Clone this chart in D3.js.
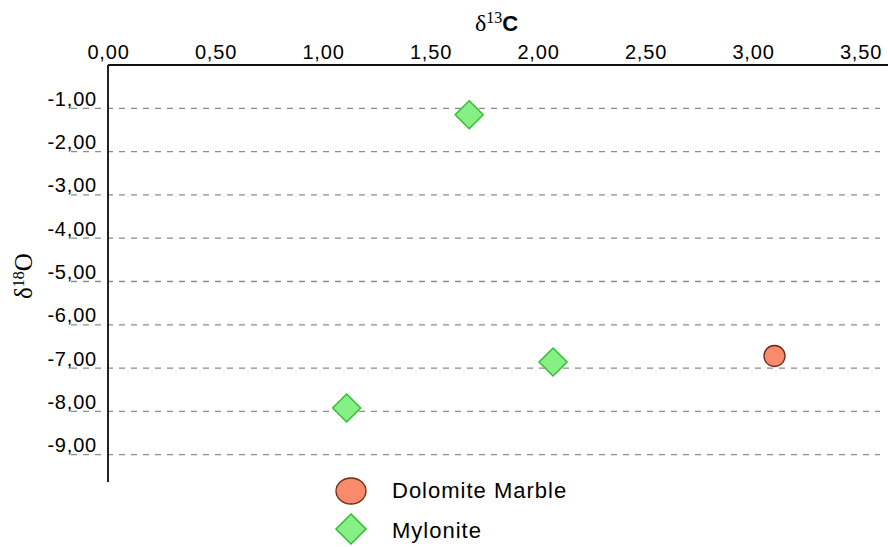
<!DOCTYPE html>
<html>
<head>
<meta charset="utf-8">
<script src="https://cdn.jsdelivr.net/npm/d3@7"></script>
<style>
  html, body { margin: 0; padding: 0; background: #fff; }
  svg { display: block; }
</style>
</head>
<body>
<svg id="chart" width="888" height="547"></svg>
<script>
// ---- data ----
const seriesNames = ["Dolomite Marble", "Mylonite"];
const dolomiteC = [3.10];
const dolomiteO = [-6.72];
const myloniteC = [1.68, 2.07, 1.11];
const myloniteO = [-1.15, -6.86, -7.92];
const xTicks = [0, 0.5, 1.0, 1.5, 2.0, 2.5, 3.0, 3.5];
const xTickLabels = ["0,00", "0,50", "1,00", "1,50", "2,00", "2,50", "3,00", "3,50"];
const yTicks = [-1, -2, -3, -4, -5, -6, -7, -8, -9];
const yTickLabels = ["-1,00", "-2,00", "-3,00", "-4,00", "-5,00", "-6,00", "-7,00", "-8,00", "-9,00"];

// ---- layout ----
const W = 888, H = 547;
const svg = d3.select("#chart");
const x = d3.scaleLinear().domain([0, 3.5]).range([108, 860.5]);
const y = d3.scaleLinear().domain([0, -9.63]).range([65, 482]);
const sansFont = "Arial, 'Liberation Sans', sans-serif";
const serifFont = "'Times New Roman', 'Liberation Serif', serif";

// gridlines
svg.append("g").selectAll("line").data(yTicks).join("line")
  .attr("x1", 71).attr("x2", 880)
  .attr("y1", d => y(d)).attr("y2", d => y(d))
  .attr("stroke", "#8c8c8c").attr("stroke-width", 1.3)
  .attr("stroke-dasharray", "6,6");

// top axis (labels via d3 axis)
const topAxis = svg.append("g")
  .attr("transform", `translate(0,${y(0) - 3})`)
  .call(d3.axisTop(x).tickValues(xTicks).tickSize(0)
    .tickFormat((d, i) => xTickLabels[i]));
topAxis.select(".domain").remove();
topAxis.selectAll("text")
  .attr("font-family", sansFont).attr("font-size", 20)
  .attr("letter-spacing", "0.8px")
  .attr("fill", "#000").attr("dy", 0);

// left axis labels
const leftAxis = svg.append("g")
  .attr("transform", `translate(97,0)`)
  .call(d3.axisLeft(y).tickValues(yTicks).tickSize(0)
    .tickFormat((d, i) => yTickLabels[i]));
leftAxis.select(".domain").remove();
leftAxis.selectAll("text")
  .attr("font-family", sansFont).attr("font-size", 20)
  .attr("letter-spacing", "0.8px")
  .attr("fill", "#000").attr("x", 0).attr("dy", -3)
  .attr("text-anchor", "end");

// axis lines
svg.append("line")
  .attr("x1", x(0)).attr("x2", W)
  .attr("y1", y(0)).attr("y2", y(0))
  .attr("stroke", "#111").attr("stroke-width", 2);
svg.append("line")
  .attr("x1", x(0)).attr("x2", x(0))
  .attr("y1", y(0)).attr("y2", y.range()[1])
  .attr("stroke", "#222").attr("stroke-width", 2);

// axis titles
const xt = svg.append("text").attr("x", 475).attr("y", 31)
  .attr("font-size", 24).attr("fill", "#000");
xt.append("tspan").attr("font-family", serifFont).text("δ");
xt.append("tspan").attr("font-family", serifFont).attr("font-size", 16).attr("dy", -8).text("13");
xt.append("tspan").attr("font-family", sansFont).attr("font-weight", "bold").attr("font-size", 22).attr("dy", 8).text("C");

const yt = svg.append("text")
  .attr("transform", "translate(32,276) rotate(-90)")
  .attr("text-anchor", "middle").attr("font-size", 25).attr("fill", "#000")
  .attr("font-family", serifFont);
yt.append("tspan").text("δ");
yt.append("tspan").attr("font-size", 16).attr("dy", -8).text("18");
yt.append("tspan").attr("dy", 8).text("O");

// markers
const diamond = s => `M0,${-s}L${s},0L0,${s}L${-s},0Z`;
const myl = myloniteC.map((c, i) => ({c, o: myloniteO[i]}));
const dol = dolomiteC.map((c, i) => ({c, o: dolomiteO[i]}));

svg.append("g").selectAll("path").data(myl).join("path")
  .attr("transform", d => `translate(${x(d.c)},${y(d.o)})`)
  .attr("d", diamond(14))
  .attr("fill", "#86f086").attr("stroke", "#2fbf2f").attr("stroke-width", 1.5);

svg.append("g").selectAll("circle").data(dol).join("circle")
  .attr("cx", d => x(d.c)).attr("cy", d => y(d.o)).attr("r", 10.5)
  .attr("fill", "#f98a6b").attr("stroke", "#6b2a1c").attr("stroke-width", 1.3);

// legend
const legend = svg.append("g");
legend.append("ellipse").attr("cx", 351).attr("cy", 491).attr("rx", 15).attr("ry", 13)
  .attr("fill", "#f98a6b").attr("stroke", "#6b2a1c").attr("stroke-width", 1.3);
legend.append("path").attr("transform", "translate(351,529)")
  .attr("d", diamond(15))
  .attr("fill", "#86f086").attr("stroke", "#2fbf2f").attr("stroke-width", 1.5);
legend.selectAll("text").data(seriesNames).join("text")
  .attr("x", 392).attr("y", (d, i) => 498 + i * 40)
  .attr("font-family", sansFont).attr("font-size", 22)
  .attr("letter-spacing", "1px").attr("fill", "#000")
  .text(d => d);
</script>
</body>
</html>
